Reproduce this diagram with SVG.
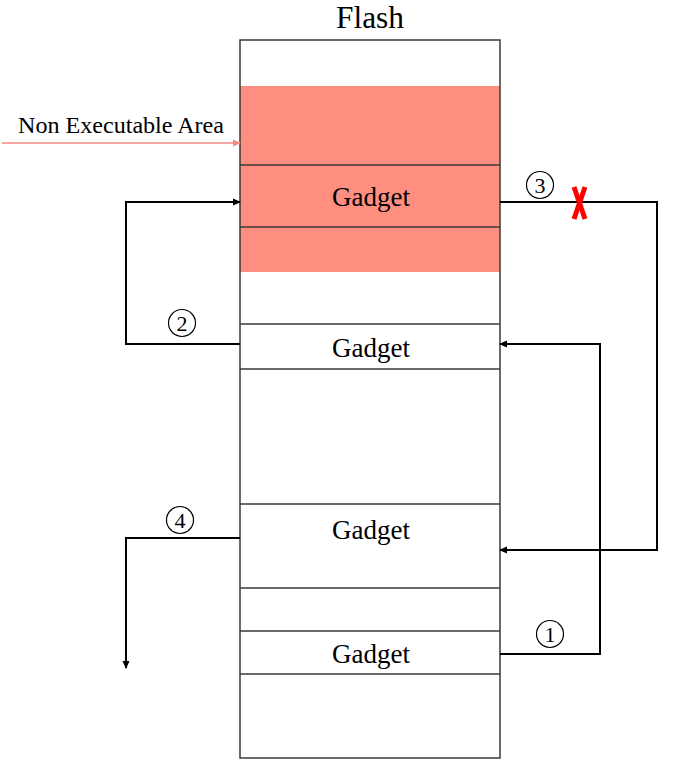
<svg xmlns="http://www.w3.org/2000/svg" width="676" height="769" viewBox="0 0 676 769">
<style>
.box{fill:none;stroke:#3a3a3a;stroke-width:1.5}
.sep{stroke:#3a3a3a;stroke-width:1.5}
.conn{fill:none;stroke:#000;stroke-width:2}
.t{font-family:"Liberation Serif","Times New Roman",serif;fill:#000;text-anchor:middle}
.g{font-size:27px}
.num{font-size:22px}
.circ{fill:none;stroke:#000;stroke-width:1.2}
</style>
<defs>
<marker id="ah" markerWidth="8" markerHeight="8" refX="7" refY="4" orient="auto" markerUnits="userSpaceOnUse">
<path d="M0,0.5 L8,4 L0,7.5 Z" fill="#000"/>
</marker>
<marker id="ahp" markerWidth="8" markerHeight="8" refX="7" refY="4" orient="auto" markerUnits="userSpaceOnUse">
<path d="M0,0.5 L8,4 L0,7.5 Z" fill="#f28b82"/>
</marker>
</defs>
<rect width="676" height="769" fill="#fff"/>
<text class="t" x="370" y="28" font-size="31" textLength="68" lengthAdjust="spacingAndGlyphs">Flash</text>
<g id="flash">
<rect x="240" y="86" width="260" height="186" fill="#fe8f80"/>
<rect class="box" x="240" y="40" width="260" height="718"/>
<line class="sep" x1="240" y1="165" x2="500" y2="165"/>
<line class="sep" x1="240" y1="227" x2="500" y2="227"/>
<line class="sep" x1="240" y1="324" x2="500" y2="324"/>
<line class="sep" x1="240" y1="369" x2="500" y2="369"/>
<line class="sep" x1="240" y1="504" x2="500" y2="504"/>
<line class="sep" x1="240" y1="588" x2="500" y2="588"/>
<line class="sep" x1="240" y1="631" x2="500" y2="631"/>
<line class="sep" x1="240" y1="674" x2="500" y2="674"/>
</g>
<g id="gadget1"><text class="t g" x="371" y="206" textLength="78" lengthAdjust="spacingAndGlyphs">Gadget</text></g>
<g id="gadget2"><text class="t g" x="371" y="357" textLength="78" lengthAdjust="spacingAndGlyphs">Gadget</text></g>
<g id="gadget3"><text class="t g" x="371" y="539" textLength="78" lengthAdjust="spacingAndGlyphs">Gadget</text></g>
<g id="gadget4"><text class="t g" x="371" y="663" textLength="78" lengthAdjust="spacingAndGlyphs">Gadget</text></g>
<g id="nonexec">
<text x="18" y="133" font-family="Liberation Serif,serif" font-size="24" textLength="206" lengthAdjust="spacingAndGlyphs">Non Executable Area</text>
</g>
<g id="connectors">
<line x1="2" y1="143" x2="240" y2="143" stroke="#f28b82" stroke-width="1.5" marker-end="url(#ahp)"/>
<polyline class="conn" points="240,344 126,344 126,202 240,202" marker-end="url(#ah)"/>
<polyline class="conn" points="500,202 657,202 657,550 500,550" marker-end="url(#ah)"/>
<polyline class="conn" points="500,654 600,654 600,344 500,344" marker-end="url(#ah)"/>
<polyline class="conn" points="240,538 126,538 126,668" marker-end="url(#ah)"/>
<g id="x-mark" stroke="#ff0000" stroke-width="5" stroke-linecap="butt">
<line x1="574" y1="187" x2="585" y2="219"/>
<line x1="585" y1="187" x2="574" y2="219"/>
</g>
</g>
<g id="label1"><circle class="circ" cx="550" cy="634" r="13.5"/><text class="t num" x="550" y="642">1</text></g>
<g id="label2"><circle class="circ" cx="182" cy="323" r="13.5"/><text class="t num" x="182" y="331">2</text></g>
<g id="label3"><circle class="circ" cx="540" cy="185" r="13.5"/><text class="t num" x="540" y="193">3</text></g>
<g id="label4"><circle class="circ" cx="180" cy="520" r="13.5"/><text class="t num" x="180" y="528">4</text></g>
</svg>
